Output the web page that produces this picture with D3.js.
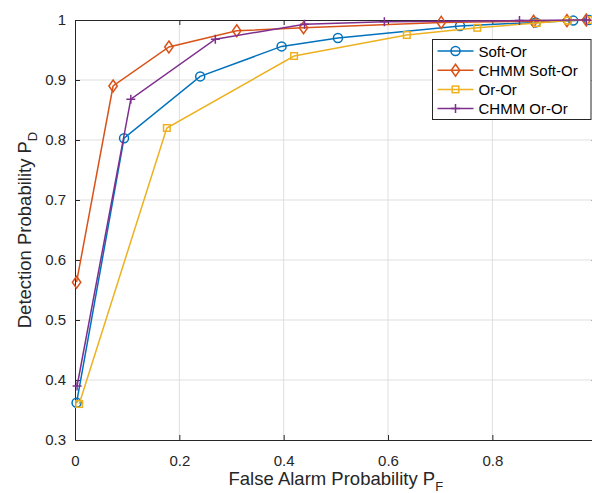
<!DOCTYPE html>
<html>
<head>
<meta charset="utf-8">
<script src="https://cdn.jsdelivr.net/npm/d3@7"></script>
<style>
  body { margin: 0; background: #fff; }
  svg { display: block; font-family: "Liberation Sans", Arial, sans-serif; }
</style>
</head>
<body>
<div id="chart"></div>
<script>
// series
var seriesNames = ["Soft-Or", "CHMM Soft-Or", "Or-Or", "CHMM Or-Or"];

var softOrX = [0.003, 0.094, 0.240, 0.396, 0.504, 0.738, 0.883, 0.955, 0.985];
var softOrY = [0.362, 0.803, 0.906, 0.956, 0.970, 0.990, 0.996, 0.999, 1.000];

var chmmSoftOrX = [0.003, 0.073, 0.180, 0.310, 0.438, 0.702, 0.879, 0.943, 0.980];
var chmmSoftOrY = [0.563, 0.890, 0.955, 0.982, 0.987, 0.996, 0.998, 0.999, 1.000];

var orOrX = [0.008, 0.176, 0.420, 0.636, 0.771, 0.885, 0.945, 0.985];
var orOrY = [0.360, 0.820, 0.940, 0.975, 0.987, 0.995, 0.999, 1.000];

var chmmOrOrX = [0.004, 0.107, 0.269, 0.440, 0.593, 0.852, 0.980];
var chmmOrOrY = [0.390, 0.868, 0.968, 0.993, 0.997, 0.999, 1.000];

var xTicks = [0, 0.2, 0.4, 0.6, 0.8];
var yTicks = [0.3, 0.4, 0.5, 0.6, 0.7, 0.8, 0.9, 1];

var colors = ["#0072BD", "#D95319", "#EDB120", "#7E2F8E"];
var markers = ["circle", "diamond", "square", "plus"];

var W = 592, H = 493;
// plot box; right edge sits just past the window, as in the figure
var pL = 75, pR = 596.7, pT = 20, pB = 440;

var svg = d3.select("#chart").append("svg").attr("width", W).attr("height", H);

var x = d3.scaleLinear().domain([0, 1]).range([pL, pR]);
var y = d3.scaleLinear().domain([0.3, 1]).range([pB, pT]);

// grid
svg.append("g").selectAll("line").data(xTicks.slice(1)).enter().append("line")
  .attr("x1", function(d) { return x(d); }).attr("x2", function(d) { return x(d); })
  .attr("y1", pT).attr("y2", pB)
  .attr("stroke", "#dfdfdf").attr("stroke-width", 1);
svg.append("g").selectAll("line").data(yTicks.slice(1, -1)).enter().append("line")
  .attr("y1", function(d) { return y(d); }).attr("y2", function(d) { return y(d); })
  .attr("x1", pL).attr("x2", pR)
  .attr("stroke", "#dfdfdf").attr("stroke-width", 1);

// axes (ticks inside, MATLAB style)
var axCol = "#262626";
svg.append("g").attr("transform", "translate(0," + pB + ")")
  .call(d3.axisBottom(x).tickValues(xTicks).tickSizeInner(-5).tickSizeOuter(0).tickPadding(15)
    .tickFormat(function(d) { return d === 0 ? "0" : d3.format(".1f")(d); }));
svg.append("g").attr("transform", "translate(" + pL + ",0)")
  .call(d3.axisLeft(y).tickValues(yTicks).tickSizeInner(-5).tickSizeOuter(0).tickPadding(9)
    .tickFormat(function(d) { return d === 1 ? "1" : d3.format(".1f")(d); }));
svg.append("g").attr("transform", "translate(0," + pT + ")")
  .call(d3.axisTop(x).tickValues(xTicks).tickSizeInner(-5).tickSizeOuter(0).tickFormat(""));
svg.append("g").attr("transform", "translate(" + pR + ",0)")
  .call(d3.axisRight(y).tickValues(yTicks).tickSizeInner(-5).tickSizeOuter(0).tickFormat(""));

svg.selectAll(".domain").attr("stroke", axCol);
svg.selectAll(".tick line").attr("stroke", axCol);
svg.selectAll(".tick text").attr("fill", axCol).style("font-size", "15px")
  .style("font-family", "'Liberation Sans', Arial, sans-serif");

// axis labels
var xl = svg.append("text").attr("x", (pL + pR) / 2).attr("y", 484.5)
  .attr("text-anchor", "middle").attr("fill", axCol).style("font-size", "18.5px");
xl.append("tspan").text("False Alarm Probability P");
xl.append("tspan").attr("dy", 6).style("font-size", "13px").text("F");

var yl = svg.append("text").attr("transform", "translate(31," + ((pT + pB) / 2) + ") rotate(-90)")
  .attr("text-anchor", "middle").attr("fill", axCol).style("font-size", "18.5px");
yl.append("tspan").text("Detection Probability P");
yl.append("tspan").attr("dy", 6).style("font-size", "13px").text("D");

// series
var allX = [softOrX, chmmSoftOrX, orOrX, chmmOrOrX];
var allY = [softOrY, chmmSoftOrY, orOrY, chmmOrOrY];
var series = seriesNames.map(function(name, i) {
  return { name: name, color: colors[i], marker: markers[i],
    pts: allX[i].map(function(v, j) { return [v, allY[i][j]]; }) };
});

var line = d3.line().x(function(d) { return x(d[0]); }).y(function(d) { return y(d[1]); });

function drawMarker(g, type, color) {
  if (type === "circle") {
    g.append("circle").attr("r", 4.5).attr("fill", "none").attr("stroke", color).attr("stroke-width", 1.5);
  } else if (type === "diamond") {
    g.append("path").attr("d", "M0,-6L4.2,0L0,6L-4.2,0Z").attr("fill", "none").attr("stroke", color).attr("stroke-width", 1.5);
  } else if (type === "square") {
    g.append("rect").attr("x", -3.3).attr("y", -3.3).attr("width", 6.6).attr("height", 6.6)
      .attr("fill", "none").attr("stroke", color).attr("stroke-width", 1.5);
  } else {
    g.append("path").attr("d", "M-4.5,0H4.5M0,-4.5V4.5").attr("stroke", color).attr("stroke-width", 1.5);
  }
}

var sg = svg.selectAll(".serie").data(series).enter().append("g").attr("class", "serie");
sg.append("path").attr("d", function(d) { return line(d.pts); })
  .attr("fill", "none").attr("stroke", function(d) { return d.color; }).attr("stroke-width", 1.5);
sg.each(function(s) {
  d3.select(this).selectAll(".mk").data(s.pts).enter().append("g").attr("class", "mk")
    .attr("transform", function(d) { return "translate(" + x(d[0]) + "," + y(d[1]) + ")"; })
    .each(function() { drawMarker(d3.select(this), s.marker, s.color); });
});

// legend
var lg = svg.append("g").attr("transform", "translate(432.5,39.5)");
lg.append("rect").attr("width", 158.5).attr("height", 80).attr("fill", "#fff")
  .attr("stroke", axCol).attr("stroke-width", 1);
series.forEach(function(s, i) {
  var ly = 11.5 + i * 19.2;
  lg.append("line").attr("x1", 5).attr("x2", 41).attr("y1", ly).attr("y2", ly)
    .attr("stroke", s.color).attr("stroke-width", 1.5);
  drawMarker(lg.append("g").attr("transform", "translate(23," + ly + ")"), s.marker, s.color);
  lg.append("text").attr("x", 46).attr("y", ly + 5.5).attr("fill", "#000")
    .style("font-size", "15px").text(s.name);
});
</script>
</body>
</html>
